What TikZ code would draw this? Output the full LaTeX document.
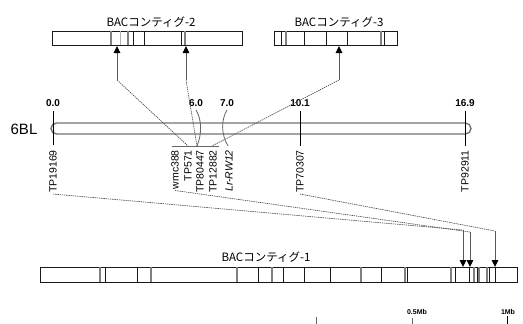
\documentclass[tikz,border=0pt]{standalone}
\usepackage{fontspec}
\setmainfont{Liberation Sans}
\newfontfamily\jpfont{Noto Sans CJK JP}
\usetikzlibrary{arrows.meta}
\begin{document}
\begin{tikzpicture}[x=1pt,y=-1pt,
  bacbox/.style={draw=black!90, line width=1pt, inner sep=0pt, anchor=north west},
  dk/.style={draw=black!90, line width=0.9pt},
  gr/.style={draw=black!50, line width=1.1pt},
  lg/.style={draw=black!30, line width=1pt},
  bactitle/.style={font=\jpfont\fontsize{11.5}{12}\selectfont, inner sep=0pt},
  dotline/.style={draw=black!70, line width=0.65pt, dash pattern=on 1.4pt off 0.8pt},
  upar/.style={draw=black!65, line width=1pt, -{Triangle[length=7pt,width=6.5pt,black]}},
  tickln/.style={draw=black, line width=1pt},
  num/.style={font=\bfseries\fontsize{10}{12}\selectfont, inner sep=0pt},
  mk/.style={font=\fontsize{10.5}{12}\selectfont, inner sep=0pt, rotate=90, anchor=east},
  curveln/.style={draw=black!60, line width=0.8pt},
  scl/.style={font=\bfseries\fontsize{7}{8}\selectfont, inner sep=0pt}
]
\useasboundingbox (0,0) rectangle (523,324);

% ---- BAC contig 2 ----
\node[bactitle] (t2) at (151,22) {BACコンティグ-2};
\node[bacbox, minimum width=190pt, minimum height=14pt] (bac2) at (52,31) {};
\foreach \x/\s in {111/gr,120/lg,128/gr,133/dk,144/dk,181/dk,185/gr}
  \draw[\s] (\x,31) -- (\x,45);

% ---- BAC contig 3 ----
\node[bactitle] (t3) at (339,22) {BACコンティグ-3};
\node[bacbox, minimum width=123pt, minimum height=14pt] (bac3) at (274,31) {};
\foreach \x/\s in {281/dk,286/gr,304/dk,326/dk,347/dk,381/gr,384/dk}
  \draw[\s] (\x,31) -- (\x,45);

% ---- chromosome ----
\node[font=\fontsize{15}{16}\selectfont, inner sep=0pt] (chrlab) at (24,129) {6BL};
\node[draw=black!55, line width=1.4pt, rounded corners=5.5pt, minimum width=420pt,
      minimum height=11pt, inner sep=0pt] (chr) at (261,128.5) {};

\node[num] (n0) at (53,103) {0.0};
\node[num] (n6) at (196,103) {6.0};
\node[num] (n7) at (227,103) {7.0};
\node[num] (n10) at (300,103) {10.1};
\node[num] (n16) at (465,103) {16.9};

\draw[tickln] (53,111) -- (53,145);
\draw[tickln] (300,111) -- (300,146);
\draw[tickln] (465,111) -- (465,146);
\draw[curveln] (196,110) .. controls (202,120) and (202,134) .. (197,146);
\draw[curveln] (227,110) .. controls (221,120) and (221,134) .. (228,146);
\draw[draw=black!60, line width=0.8pt] (172,146) -- (219,146);

% ---- marker labels ----
\node[mk] (tp19169) at (53,150) {TP19169};
\node[mk] (wmc388) at (175,150) {wmc388};
\node[mk] (tp571) at (188,150) {TP571};
\node[mk] (tp80447) at (200,150) {TP80447};
\node[mk] (tp12882) at (213,150) {TP12882};
\node[mk] (lrrw) at (229,150) {\itshape Lr-RW12};
\node[mk] (tp70307) at (300,150) {TP70307};
\node[mk] (tp92911) at (465,150) {TP92911};

% ---- connectors to upper contigs ----
\coordinate (a21) at (117,80);
\coordinate (a22) at (186,80);
\coordinate (a31) at (339,80);
\coordinate (m1) at (188,146);
\coordinate (m2) at (197,146);
\coordinate (m3) at (212,146);
\draw[upar] (a21) -- (a21 |- bac2.south);
\draw[upar] (a22) -- (a22 |- bac2.south);
\draw[upar] (a31) -- (a31 |- bac3.south);
\draw[dotline] (a21) -- (m1);
\draw[dotline] (a22) -- (m2);
\draw[dotline] (a31) -- (m3);

% ---- BAC contig 1 ----
\node[bactitle] (t1) at (266,257) {BACコンティグ-1};
\node[bacbox, minimum width=477pt, minimum height=15pt] (bac1) at (40,267) {};
\foreach \x/\s in {100/gr,105/dk,137/dk,151/gr,237/gr,258/dk,272/gr,283/dk,304/dk,330/dk,361/gr,381/dk,405/gr,407/dk,451/gr,455/dk,469/dk,474/gr,477/dk,479/gr,487/gr,489/dk,495/dk}
  \draw[\s] (\x,267) -- (\x,282);

\coordinate (b1) at (463,230);
\coordinate (b2) at (470,232);
\coordinate (b3) at (495,231);
\draw[upar] (b1) -- (b1 |- bac1.north);
\draw[upar] (b2) -- (b2 |- bac1.north);
\draw[upar] (b3) -- (b3 |- bac1.north);
\draw[dotline] ([yshift=-1pt]tp19169.west) -- (b1);
\draw[dotline] ([yshift=-1pt]wmc388.west) -- (b2);
\draw[dotline] ([yshift=-1pt]tp70307.west) -- (b3);

% ---- scale ----
\node[scl] (s05) at (417,312) {0.5Mb};
\node[scl] (s1) at (508,312) {1Mb};
\draw[draw=black!60, line width=0.8pt] (316,317) -- (316,324);
\draw[draw=black!60, line width=0.8pt] (412,318) -- (412,324);
\draw[draw=black, line width=0.8pt] (507,316) -- (507,324);
\end{tikzpicture}
\end{document}
